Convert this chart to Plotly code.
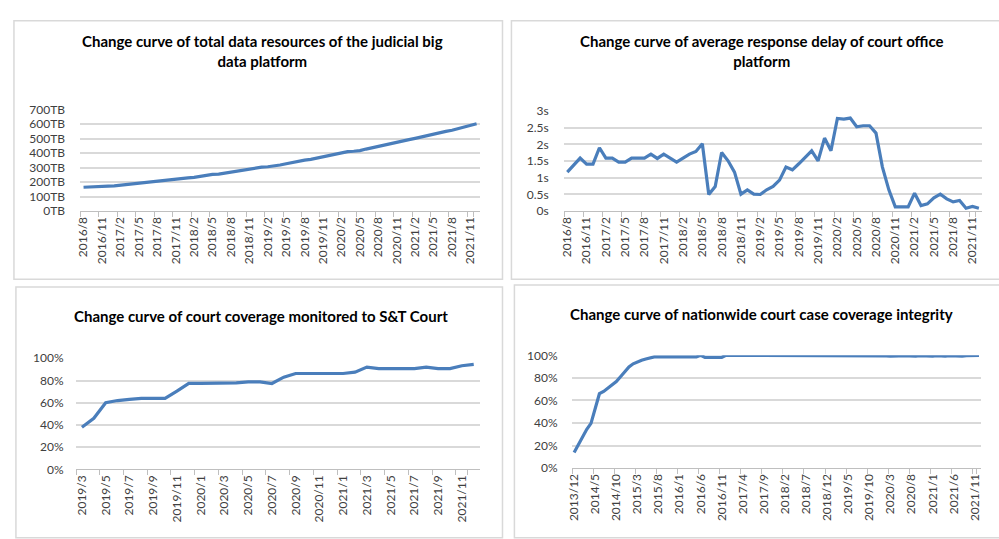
import plotly.graph_objects as go


def months(y0, m0, n):
    out = []
    y, m = y0, m0
    for _ in range(n):
        out.append(f"{y}/{m}")
        m += 1
        if m > 12:
            m = 1
            y += 1
    return out


# ---------- data ----------
months_data = months(2016, 8, 65)  # 2016/8 .. 2021/12
data_tb = [165, 168, 171, 173, 173, 174, 179, 183, 187, 192,
           197, 201, 205, 210, 215, 221, 225, 230, 233, 240,
           248, 254, 256, 263, 271, 278, 281, 288, 295, 303,
           306, 310, 318, 327, 336, 345, 352, 357, 366, 375,
           384, 393, 402, 410, 413, 417, 428, 438, 448, 458,
           468, 477, 485, 493, 502, 512, 525, 533, 542, 550,
           558, 568, 582, 592, 603]

months_delay = months(2016, 8, 65)
delay_s = [1.17, 1.39, 1.59, 1.41, 1.41, 1.90, 1.59, 1.59, 1.47, 1.47,
           1.59, 1.59, 1.59, 1.71, 1.58, 1.71, 1.59, 1.47, 1.59, 1.71,
           1.79, 2.02, 0.50, 0.74, 1.76, 1.51, 1.17, 0.51, 0.64, 0.51,
           0.50, 0.64, 0.74, 0.93, 1.32, 1.24, 1.42, 1.61, 1.81, 1.51,
           2.19, 1.81, 2.78, 2.76, 2.79, 2.53, 2.56, 2.56, 2.34, 1.32,
           0.64, 0.13, 0.13, 0.13, 0.54, 0.17, 0.22, 0.40, 0.51, 0.37,
           0.28, 0.32, 0.09, 0.14, 0.09]

months_st = months(2019, 3, 34)  # 2019/3 .. 2021/12
st_cov = [0.38, 0.46, 0.60, 0.62, 0.63, 0.64, 0.64, 0.64, 0.705, 0.775,
          0.775, 0.775, 0.775, 0.778, 0.787, 0.787, 0.773, 0.83, 0.863, 0.863,
          0.863, 0.863, 0.863, 0.875, 0.921, 0.907, 0.907, 0.907, 0.907, 0.92,
          0.907, 0.907, 0.933, 0.945]

months_case = months(2013, 12, 97)  # 2013/12 .. 2021/12
case_cov = [0.138, 0.207, 0.287, 0.345, 0.397, 0.517, 0.66, 0.68, 0.707, 0.74,
            0.767, 0.81, 0.856, 0.897, 0.925, 0.942, 0.957, 0.968, 0.977, 0.986,
            0.986, 0.986, 0.986, 0.986, 0.986, 0.986, 0.986, 0.986, 0.986, 0.986,
            1.0, 0.983, 0.983, 0.983, 0.983, 0.983,
            1.0, 1.0, 1.0, 1.0, 1.0, 1.0, 1.0, 1.0, 1.0, 1.0,
            0.995, 0.995, 0.995, 0.995, 0.995, 0.995, 0.995, 0.995, 0.995, 0.995,
            0.995, 0.995, 0.995, 0.995, 0.995, 0.995, 0.995, 0.995, 0.995, 0.995,
            1.0, 1.0,
            0.995, 0.997, 0.993, 0.996, 0.998, 0.994, 0.996, 0.992, 0.997, 0.995,
            0.998, 0.994, 0.996, 0.993, 0.997, 0.995, 0.996, 0.993, 0.998, 0.995,
            0.993, 0.997, 0.994, 0.996, 0.993, 0.997, 0.996,
            1.0, 1.0]

ticks_tb = months_data[::3]
ticks_delay = months_delay[::3]
ticks_st = months_st[::2]
ticks_case = months_case[::5]

titles = [
    "Change curve of total data resources of the judicial big<br>data platform",
    "Change curve of average response delay of court office<br>platform",
    "Change curve of court coverage monitored to S&T Court",
    "Change curve of nationwide court case coverage integrity",
]

# ---------- style ----------
W, H = 999, 539
LINE = "#4a7ebb"
GRID = "#d9d9d9"
AXIS = "#bfbfbf"
TXT = "#404040"
FONT = "Lato"


def px(x0, x1):
    return [x0 / W, x1 / W]


def py(top, bottom):
    return [(H - bottom) / H, (H - top) / H]


fig = go.Figure()

series = [
    (months_data, data_tb, "x", "y"),
    (months_delay, delay_s, "x2", "y2"),
    (months_st, st_cov, "x3", "y3"),
    (months_case, case_cov, "x4", "y4"),
]
for xs, ys, xa, ya in series:
    fig.add_trace(go.Scatter(x=xs, y=ys, xaxis=xa, yaxis=ya, mode="lines",
                             line=dict(color=LINE, width=3.2), hoverinfo="skip",
                             showlegend=False))


def xaxis(domain, anchor, cats, ticks):
    return dict(domain=domain, anchor=anchor, type="category",
                categoryorder="array", categoryarray=cats,
                range=[-0.5, len(cats) - 0.5],
                tickmode="array", tickvals=ticks, ticktext=ticks,
                tickson="boundaries", ticks="outside", ticklen=5,
                tickcolor=AXIS, showline=True, linecolor=AXIS, linewidth=1,
                showgrid=False, zeroline=False, tickangle=-90,
                tickfont=dict(family=FONT, size=12, color=TXT))


def yaxis(domain, anchor, rng, dtick, fmt=None, suffix="", standoff=10):
    d = dict(domain=domain, anchor=anchor, range=rng, tickmode="linear",
             tick0=0, dtick=dtick, showgrid=True, gridcolor=GRID, gridwidth=2,
             zeroline=False, showline=False, ticks="outside", ticklen=standoff,
             tickcolor="rgba(0,0,0,0)", ticksuffix=suffix,
             tickfont=dict(family=FONT, size=12, color=TXT))
    if fmt:
        d["tickformat"] = fmt
    return d


fig.update_layout(
    width=W, height=H, margin=dict(l=0, r=0, t=0, b=0),
    paper_bgcolor="white", plot_bgcolor="white",
    xaxis=xaxis(px(75, 477), "y", months_data, ticks_tb),
    yaxis=yaxis(py(104.5, 209), "x", [0, 700], 100, suffix="TB", standoff=12),
    xaxis2=xaxis(px(562, 983), "y2", months_delay, ticks_delay),
    yaxis2=yaxis(py(106, 209), "x2", [0, 3], 0.5, suffix="s", standoff=12),
    xaxis3=xaxis(px(70.5, 477), "y3", months_st, ticks_st),
    yaxis3=yaxis(py(360.3, 474.7), "x3", [0, 1], 0.2, fmt=".0%", standoff=9),
    xaxis4=xaxis(px(570, 982), "y4", months_case, ticks_case),
    yaxis4=yaxis(py(357.3, 473.3), "x4", [0, 1], 0.2, fmt=".0%", standoff=11),
)

# panel borders
panels = [(8, 13, 500, 279), (509, 13, 1003, 279), (10, 287, 500, 545), (512, 285, 1003, 545)]
for x0, y0, x1, y1 in panels:
    fig.add_shape(type="rect", xref="paper", yref="paper",
                  x0=x0 / W, x1=x1 / W, y0=(H - y1) / H, y1=(H - y0) / H,
                  line=dict(color=GRID, width=1.5), fillcolor="rgba(0,0,0,0)")

# titles
title_pos = [(258, 44), (761, 44), (257, 317), (761, 315)]
for t, (cx, cy) in zip(titles, title_pos):
    fig.add_annotation(text=f"<b>{t}</b>", xref="paper", yref="paper",
                       x=cx / W, y=(H - cy) / H, showarrow=False,
                       xanchor="center", yanchor="middle", align="center",
                       font=dict(family=FONT, size=15, color="black"))

fig.write_html("out.html", config={"displayModeBar": False},
               post_script="document.body.style.margin='0';document.body.style.overflow='hidden';")
